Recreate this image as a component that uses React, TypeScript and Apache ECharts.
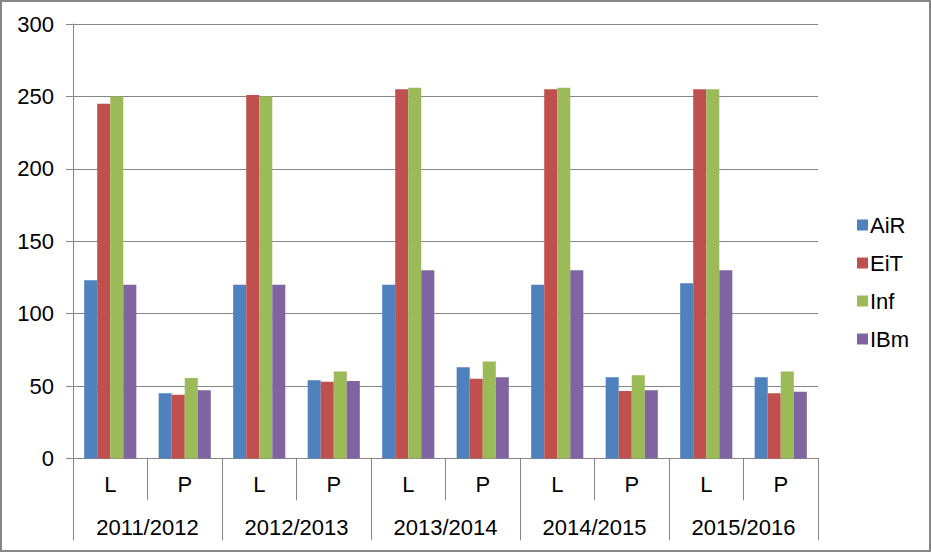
import React, { useEffect, useRef } from "react";
import * as echarts from "echarts";

const subCategories = ["L", "P", "L", "P", "L", "P", "L", "P", "L", "P"];
const years = ["2011/2012", "2012/2013", "2013/2014", "2014/2015", "2015/2016"];
const seriesNames = ["AiR", "EiT", "Inf", "IBm"];
const airValues = [123, 45, 120, 54, 120, 63, 120, 56, 121, 56];
const eitValues = [245, 44, 251, 53, 255, 55, 255, 46.5, 255, 45];
const infValues = [250, 55.5, 250, 60, 256, 67, 256, 57.5, 255, 60];
const ibmValues = [120, 47, 120, 53.5, 130, 56, 130, 47, 130, 46];
const colors = ["#4F81BD", "#C0504D", "#9BBB59", "#8064A2"];

const FONT = "'Liberation Sans', Arial, sans-serif";
const GRAY = "#868686";
const FS = 22;

export default function App() {
  const ref = useRef<HTMLDivElement>(null);
  useEffect(() => {
    document.body.style.margin = "0";
    const chart = echarts.init(ref.current!, undefined, { renderer: "svg" });
    const values = [airValues, eitValues, infValues, ibmValues];
    chart.setOption({
      animation: false,
      textStyle: { fontFamily: FONT },
      graphic: [
        {
          type: "rect",
          shape: { x: 1, y: 1, width: 929, height: 550 },
          style: { fill: "none", stroke: GRAY, lineWidth: 2 },
          z: 100,
        },
      ],
      grid: { left: 73, right: 113, top: 24, bottom: 93.6, containLabel: false },
      legend: {
        orient: "vertical",
        left: 852,
        top: 209,
        itemWidth: 11,
        itemHeight: 11,
        itemGap: 16,
        icon: "rect",
        data: seriesNames,
        textStyle: { fontSize: FS, lineHeight: 22, color: "#000", fontFamily: FONT, padding: [0, 0, 0, -3] },
      },
      xAxis: [
        {
          type: "category",
          data: subCategories,
          position: "bottom",
          axisLine: { show: true, lineStyle: { color: GRAY, width: 1 } },
          axisTick: { show: true, length: 42, interval: 0, lineStyle: { color: GRAY } },
          axisLabel: { fontSize: FS, color: "#000", margin: 15, interval: 0, fontFamily: FONT },
        },
        {
          type: "category",
          data: years,
          position: "bottom",
          axisLine: { show: false },
          axisTick: { show: true, length: 82, interval: 0, lineStyle: { color: GRAY } },
          axisLabel: { fontSize: FS, color: "#000", margin: 58, interval: 0, fontFamily: FONT },
        },
      ],
      yAxis: {
        type: "value",
        min: 0,
        max: 300,
        interval: 50,
        axisLine: { show: true, lineStyle: { color: GRAY } },
        axisTick: { show: true, length: 7, lineStyle: { color: GRAY } },
        splitLine: { show: true, lineStyle: { color: GRAY, width: 1 } },
        axisLabel: { fontSize: FS, color: "#000", margin: 19, fontFamily: FONT },
      },
      series: seriesNames.map((name, i) => ({
        name,
        type: "bar",
        xAxisIndex: 0,
        data: values[i],
        barGap: "0%",
        barCategoryGap: "30%",
        itemStyle: { color: colors[i] },
      })),
    });
    return () => chart.dispose();
  }, []);
  return <div ref={ref} style={{ width: 931, height: 552 }} />;
}
